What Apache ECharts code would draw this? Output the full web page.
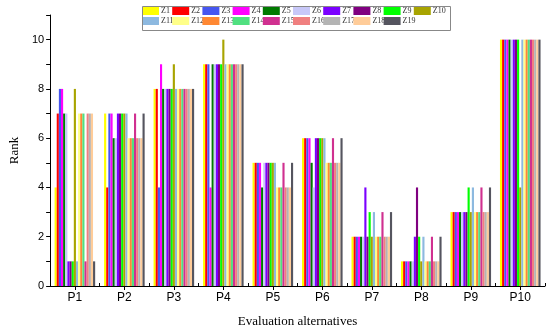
<!DOCTYPE html>
<html>
<head>
<meta charset="utf-8">
<script src="https://cdn.jsdelivr.net/npm/echarts@6/dist/echarts.min.js"></script>
<style>html,body{margin:0;padding:0;background:#fff}#c{width:550px;height:333px}</style>
</head>
<body>
<div id="c"></div>
<script>
const categories = ['P1','P2','P3','P4','P5','P6','P7','P8','P9','P10'];
const yTicks = [0, 2, 4, 6, 8, 10];
const seriesNames = ['Z1','Z2','Z3','Z4','Z5','Z6','Z7','Z8','Z9','Z10','Z11','Z12','Z13','Z14','Z15','Z16','Z17','Z18','Z19'];
const Z1  = [4, 7, 8, 9, 5, 6, 2, 1, 3, 10];
const Z2  = [7, 4, 8, 9, 5, 6, 2, 1, 3, 10];
const Z3  = [8, 7, 4, 9, 5, 6, 2, 1, 3, 10];
const Z4  = [8, 7, 9, 4, 5, 6, 2, 1, 3, 10];
const Z5  = [7, 6, 8, 9, 4, 5, 2, 1, 3, 10];
const Z6  = [7, 6, 8, 9, 5, 4, 2, 1, 3, 10];
const Z7  = [1, 7, 8, 9, 5, 6, 4, 2, 3, 10];
const Z8  = [1, 7, 8, 9, 5, 6, 2, 4, 3, 10];
const Z9  = [1, 7, 8, 9, 5, 6, 3, 2, 4, 10];
const Z10 = [8, 7, 9, 10, 5, 6, 2, 1, 3, 4];
const Z11 = [1, 7, 8, 9, 5, 6, 3, 2, 4, 10];
const Z12 = [7, 6, 8, 9, 4, 5, 2, 1, 3, 10];
const Z13 = [7, 6, 8, 9, 4, 5, 2, 1, 3, 10];
const Z14 = [7, 6, 8, 9, 4, 5, 2, 1, 3, 10];
const Z15 = [1, 7, 8, 9, 5, 6, 3, 2, 4, 10];
const Z16 = [7, 6, 8, 9, 4, 5, 2, 1, 3, 10];
const Z17 = [7, 6, 8, 9, 4, 5, 2, 1, 3, 10];
const Z18 = [7, 6, 8, 9, 4, 5, 2, 1, 3, 10];
const Z19 = [1, 7, 8, 9, 5, 6, 3, 2, 4, 10];
const seriesValues = [Z1,Z2,Z3,Z4,Z5,Z6,Z7,Z8,Z9,Z10,Z11,Z12,Z13,Z14,Z15,Z16,Z17,Z18,Z19];
const colors = ['#FFFF00','#FF0000','#4656F0','#FF00FF','#007A00','#C8C8F8','#7B00FF','#800080','#00FF00','#A8A400',
                '#8DB9E0','#FFFF88','#FF8833','#50E080','#D03090','#F08080','#B4B4B4','#FFCC99','#55555F'];

const chart = echarts.init(document.getElementById('c'), null, {renderer: 'canvas'});

const legends = seriesNames.map((n, i) => ({
  data: [n],
  left: 142 + (i % 10) * 30.2,
  top: i < 10 ? 7 : 17,
  padding: 0,
  itemWidth: 17,
  itemHeight: 8,
  icon: 'rect',
  selectedMode: false,
  textStyle: {fontFamily: 'Liberation Serif', fontSize: 8, color: '#333', padding: [0, 0, 0, -3]}
}));

const option = {
  backgroundColor: '#fff',
  animation: false,
  color: colors,
  legend: legends,
  graphic: [{
    type: 'rect', left: 140, top: 4, z: 100, silent: true,
    shape: {width: 308, height: 24},
    style: {fill: 'none', stroke: '#888', lineWidth: 1}
  }],
  grid: {left: 42, right: 5, top: 15, bottom: 46, containLabel: false},
  xAxis: [{
    type: 'category',
    data: categories,
    name: 'Evaluation alternatives',
    nameLocation: 'middle',
    nameGap: 29,
    nameTextStyle: {fontFamily: 'Liberation Serif', fontSize: 13, color: '#000'},
    axisLine: {show: true, lineStyle: {color: '#000', width: 1}},
    axisTick: {show: true, alignWithLabel: true, length: 4, lineStyle: {color: '#000'}},
    axisLabel: {fontFamily: 'Liberation Sans', fontSize: 12, color: '#000', margin: 6},
    splitLine: {show: false}
  }, {
    type: 'category',
    data: categories,
    position: 'bottom',
    axisLine: {show: false},
    axisTick: {show: true, inside: true, length: 3, lineStyle: {color: '#000'}},
    axisLabel: {show: false},
    splitLine: {show: false}
  }],
  yAxis: {
    type: 'value',
    min: 0,
    max: 11,
    interval: 1,
    name: 'Rank',
    nameLocation: 'middle',
    nameGap: 27,
    nameTextStyle: {fontFamily: 'Liberation Serif', fontSize: 13, color: '#000'},
    axisLine: {show: true, lineStyle: {color: '#000', width: 1}},
    axisTick: {show: true, length: 4, lineStyle: {color: '#000'}},
    axisLabel: {
      fontFamily: 'Liberation Sans', fontSize: 11, color: '#000', margin: 6,
      formatter: v => (yTicks.indexOf(v) >= 0 ? String(v) : '')
    },
    splitLine: {show: false}
  },
  series: seriesNames.map((n, i) => ({
    name: n,
    type: 'bar',
    xAxisIndex: 0,
    data: seriesValues[i],
    barGap: '0%',
    barCategoryGap: '18%',
    itemStyle: {color: colors[i]}
  }))
};
chart.setOption(option);
</script>
</body>
</html>
